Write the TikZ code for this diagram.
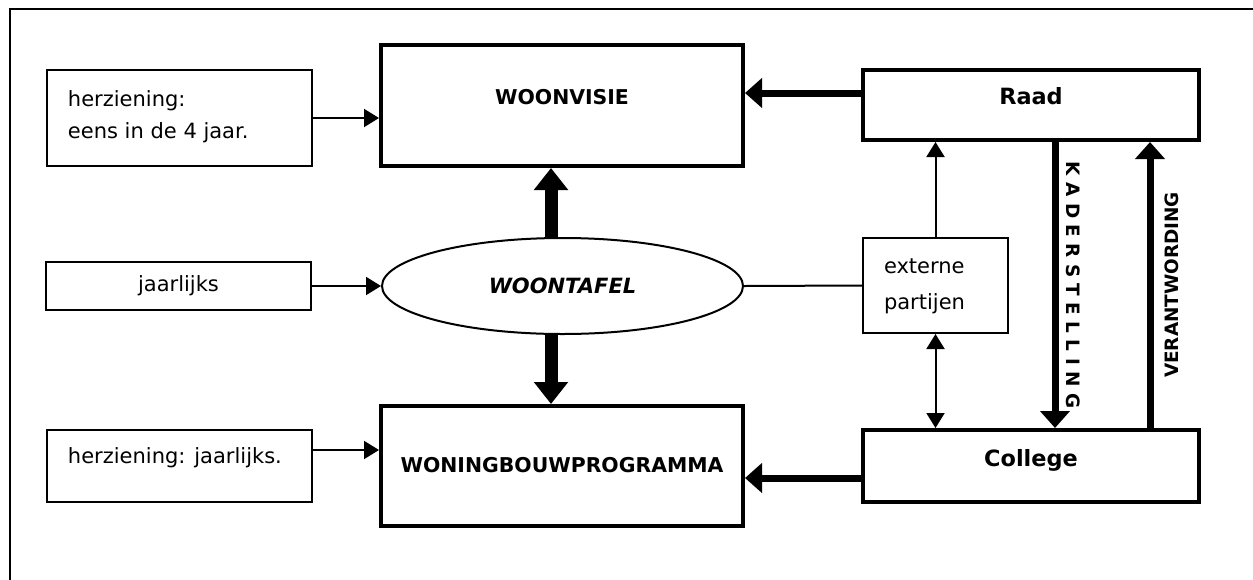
\documentclass[tikz,border=0pt]{standalone}
\usepackage{fontspec}
\setmainfont{DejaVu Sans}[ItalicFont={DejaVu Sans Oblique},BoldItalicFont={DejaVu Sans Bold Oblique}]
\usetikzlibrary{arrows.meta,shapes.geometric}

\begin{document}
\begin{tikzpicture}[x=0.5pt, y=-0.5pt,
    box/.style={draw, line width=1pt, inner sep=0pt, font=\fontsize{10.5}{16}\selectfont},
    mainbox/.style={draw, line width=2pt, inner sep=0pt, font=\bfseries\fontsize{10.2}{12}\selectfont},
    thinarrow/.style={line width=1pt, -{Triangle[length=7.5pt 0 0, width=9pt 0 0]}},
    thinboth/.style={line width=1pt, {Triangle[length=7.5pt 0 0, width=9pt 0 0]}-{Triangle[length=7.5pt 0 0, width=9pt 0 0]}},
    medarrow/.style={line width=3.5pt, -{Triangle[length=8.5pt 0 0, width=14.5pt 0 0]}},
    fatarrow/.style={line width=6.5pt, -{Triangle[length=11pt 0 0, width=16.5pt 0 0]}},
    vlabel/.style={font=\bfseries\fontsize{9.2}{11}\selectfont, inner sep=0pt}]
    \useasboundingbox (0,0) rectangle (1253,579);
    \clip (0,0) rectangle (1253,579);
    \fill[white] (0,0) rectangle (1253,579);
    \draw[line width=1pt] (9.5,9) rectangle (1300,620);

    % main blocks
    \node[mainbox, anchor=base, minimum width=181pt, text height=29.5pt, text depth=31pt] (visie) at (562,104) {WOONVISIE};
    \node[mainbox, anchor=base, minimum width=181pt, text height=33pt, text depth=27pt] (wbp) at (562,472) {WONINGBOUWPROGRAMMA};
    \node[mainbox, anchor=base, minimum width=168pt, text height=17pt, text depth=18pt, font=\bfseries\fontsize{11.2}{13}\selectfont] (raad) at (1031,104) {Raad};
    \node[mainbox, anchor=base, minimum width=168pt, text height=18pt, text depth=18pt, font=\bfseries\fontsize{11.2}{13}\selectfont] (college) at (1031,466) {College};
    \node[draw, ellipse, line width=1pt, minimum width=180.5pt, minimum height=48pt, inner sep=0pt, font=\bfseries\itshape\fontsize{10.5}{12}\selectfont] (tafel) at (562.5,286) {WOONTAFEL};

    % side boxes
    \node[box, anchor=base west, inner xsep=10.5pt, text height=18pt, text depth=30pt] (herzvisie) at (46,106) {\parbox[t]{111.5pt}{herziening:\\eens in de 4 jaar.}};
    \node[box, anchor=base, minimum width=132.5pt, text height=14.5pt, text depth=9.5pt] (jaarl) at (178.5,291) {jaarlijks};
    \node[box, anchor=base west, inner xsep=10.5pt, text height=16.5pt, text depth=19.5pt] (herzwbp) at (46,463) {\parbox[t]{111.5pt}{herziening: jaarlijks.}};
    \node[box, anchor=base west, inner xsep=10.5pt, text height=17.5pt, text depth=30pt, font=\fontsize{10.5}{18}\selectfont] (extern) at (862,273) {\parbox[t]{51.5pt}{externe\\partijen}};

    % connectors
    \draw[thinarrow] (herzvisie.east) -- (herzvisie.east -| visie.west);
    \draw[thinarrow] (jaarl.east) -- (tafel.west);
    \draw[thinarrow] ([yshift=8pt]herzwbp.east) -- ([yshift=8pt]herzwbp.east -| wbp.west);
    \draw[fatarrow] ([xshift=-5.75pt]tafel.north) -- ([xshift=-5.75pt]tafel.north |- visie.south);
    \draw[fatarrow] ([xshift=-5.75pt]tafel.south) -- ([xshift=-5.75pt]tafel.south |- wbp.north);
    \draw[medarrow] ([yshift=6pt]raad.west) -- ([yshift=6pt]raad.west -| visie.east);
    \draw[medarrow] ([yshift=-6pt]college.west) -- ([yshift=-6pt]college.west -| wbp.east);
    \draw[line width=1pt] (tafel.east) -- (extern.west);
    \draw[thinarrow] (extern.north) -- (extern.north |- raad.south);
    \draw[thinboth] (extern.south) -- (extern.south |- college.north);
    \draw[medarrow] ([xshift=12pt]raad.south) -- node[vlabel, xshift=9pt, rotate=-90] (kader) {K A D E R S T E L L I N G} ([xshift=12pt]raad.south |- college.north);
    \draw[medarrow] ([xshift=59.5pt]college.north) -- node[vlabel, xshift=11pt, rotate=90] (verant) {VERANTWORDING} ([xshift=59.5pt]college.north |- raad.south);
\end{tikzpicture}
\end{document}
